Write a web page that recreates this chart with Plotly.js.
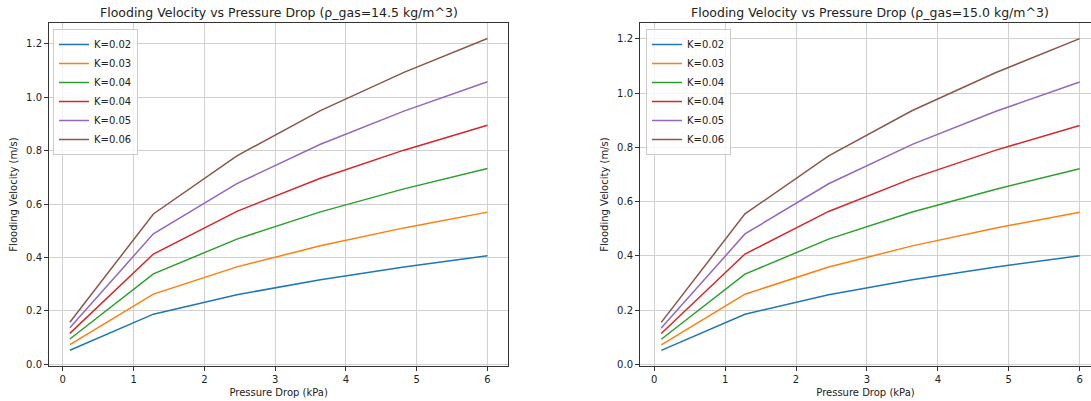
<!DOCTYPE html>
<html>
<head>
<meta charset="utf-8">
<script src="https://cdn.plot.ly/plotly-3.0.1.min.js"></script>
<style>html,body{margin:0;padding:0;background:#fff;}#chart{width:1091px;height:401px;}</style>
</head>
<body>
<div id="chart"></div>
<script>
// Pressure drop (kPa)
const pressureDrop = [0.1, 1.28, 2.46, 3.64, 4.82, 6.0];
const seriesNames = ["K=0.02", "K=0.03", "K=0.04", "K=0.04", "K=0.05", "K=0.06"];
const seriesColors = ["#1f77b4", "#ff7f0e", "#2ca02c", "#d62728", "#9467bd", "#8c564b"];

// rho_gas = 14.5 kg/m^3
const left_K002 = [0.053, 0.188, 0.261, 0.317, 0.365, 0.407];
const left_K003 = [0.074, 0.263, 0.365, 0.444, 0.511, 0.570];
const left_K004a = [0.095, 0.339, 0.469, 0.571, 0.657, 0.733];
const left_K004b = [0.116, 0.413, 0.573, 0.697, 0.802, 0.895];
const left_K005 = [0.137, 0.489, 0.677, 0.824, 0.948, 1.058];
const left_K006 = [0.158, 0.563, 0.781, 0.950, 1.093, 1.220];

// rho_gas = 15.0 kg/m^3
const right_K002 = [0.052, 0.185, 0.257, 0.312, 0.359, 0.401];
const right_K003 = [0.072, 0.259, 0.359, 0.437, 0.503, 0.561];
const right_K004a = [0.093, 0.333, 0.462, 0.562, 0.646, 0.721];
const right_K004b = [0.114, 0.407, 0.564, 0.686, 0.790, 0.881];
const right_K005 = [0.134, 0.481, 0.666, 0.811, 0.933, 1.041];
const right_K006 = [0.155, 0.555, 0.769, 0.936, 1.076, 1.201];

const titles = ["Flooding Velocity vs Pressure Drop (ρ_gas=14.5 kg/m^3)",
                "Flooding Velocity vs Pressure Drop (ρ_gas=15.0 kg/m^3)"];
const xLabel = "Pressure Drop (kPa)";
const yLabel = "Flooding Velocity (m/s)";

const leftSeries = [left_K002, left_K003, left_K004a, left_K004b, left_K005, left_K006];
const rightSeries = [right_K002, right_K003, right_K004a, right_K004b, right_K005, right_K006];

const FONT = "DejaVu Sans, sans-serif";
const traces = [];
leftSeries.forEach((ys, i) => traces.push({
  x: pressureDrop, y: ys, type: "scatter", mode: "lines", name: seriesNames[i],
  line: {color: seriesColors[i], width: 1.5}, xaxis: "x", yaxis: "y", legend: "legend"
}));
rightSeries.forEach((ys, i) => traces.push({
  x: pressureDrop, y: ys, type: "scatter", mode: "lines", name: seriesNames[i],
  line: {color: seriesColors[i], width: 1.5}, xaxis: "x2", yaxis: "y2", legend: "legend2"
}));

const W = 1091, H = 401;
const yDom = [(H - 366) / H, (H - 23) / H];

function axisCommon() {
  return {
    showgrid: true, gridcolor: "#d0d0d0", gridwidth: 1,
    zeroline: false, showline: true, linecolor: "#333", linewidth: 1,
    ticks: "outside", ticklen: 4, tickcolor: "#333", tickwidth: 1,
    tickfont: {family: FONT, size: 10, color: "#222"}
  };
}

const layout = {
  width: W, height: H,
  margin: {l: 0, r: 0, t: 0, b: 0},
  paper_bgcolor: "#fff", plot_bgcolor: "#fff",
  font: {family: FONT, size: 10, color: "#222"},
  xaxis: Object.assign(axisCommon(), {
    domain: [49 / W, 508.3 / W], range: [-0.195, 6.295], dtick: 1, tick0: 0, mirror: true, anchor: "y",
    title: {text: xLabel, font: {family: FONT, size: 10, color: "#222"}, standoff: 4}
  }),
  yaxis: Object.assign(axisCommon(), {
    domain: yDom, range: [-0.006, 1.278], dtick: 0.2, tick0: 0, tickformat: ".1f", mirror: true, anchor: "x",
    title: {text: yLabel, font: {family: FONT, size: 10, color: "#222"}, standoff: 6}
  }),
  xaxis2: Object.assign(axisCommon(), {
    domain: [640 / W, 1], range: [-0.2, 6.16], dtick: 1, tick0: 0, mirror: true, anchor: "y2",
    title: {text: xLabel, font: {family: FONT, size: 10, color: "#222"}, standoff: 4}
  }),
  yaxis2: Object.assign(axisCommon(), {
    domain: yDom, range: [-0.0057, 1.2585], dtick: 0.2, tick0: 0, tickformat: ".1f", mirror: false, anchor: "x2",
    title: {text: yLabel, font: {family: FONT, size: 10, color: "#222"}, standoff: 6}
  }),
  legend: {
    x: 53 / W, y: (H - 29) / H, xanchor: "left", yanchor: "top",
    bgcolor: "rgba(255,255,255,0.8)", bordercolor: "#cccccc", borderwidth: 1,
    font: {family: FONT, size: 10, color: "#222"}, tracegroupgap: 0
  },
  legend2: {
    x: 646 / W, y: (H - 29) / H, xanchor: "left", yanchor: "top",
    bgcolor: "rgba(255,255,255,0.8)", bordercolor: "#cccccc", borderwidth: 1,
    font: {family: FONT, size: 10, color: "#222"}, tracegroupgap: 0
  },
  showlegend: true,
  annotations: [
    {text: titles[0], xref: "paper", yref: "paper", x: (49 + 508.3) / 2 / W, y: (H - 12) / H,
     xanchor: "center", yanchor: "middle", showarrow: false, font: {family: FONT, size: 12.5, color: "#222"}},
    {text: titles[1], xref: "paper", yref: "paper", x: 869.5 / W, y: (H - 12) / H,
     xanchor: "center", yanchor: "middle", showarrow: false, font: {family: FONT, size: 12.5, color: "#222"}}
  ]
};

Plotly.newPlot("chart", traces, layout, {displayModeBar: false, staticPlot: true});
</script>
</body>
</html>
